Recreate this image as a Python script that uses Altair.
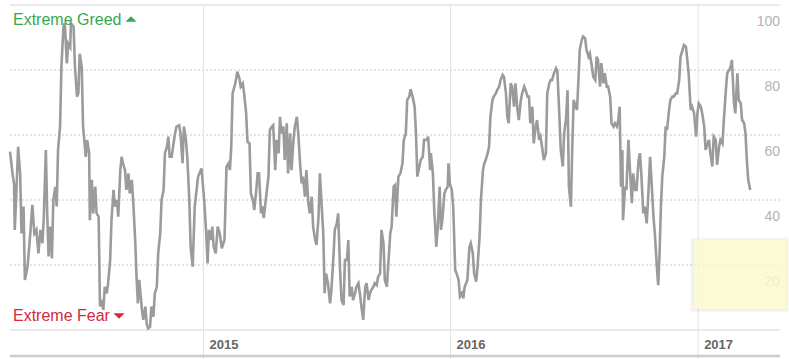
import altair as alt
import pandas as pd

# ---- data (day offsets from 2014-03-21, index value 0-100)
start_date = "2014-03-21"
days_2014 = [0,4,6,7,9,12,15,17,20,22,26,30,33,36,39,42,45,48,50,53,55,57,59,62,64,67,69,71,74,76,
             79,81,84,86,89,90,94,96,99,101,103,106,108,112,114,117,118,121,123,126,128,131,133,135,138,140,143,145,148,150,
             153,155,158,160,163,165,167,170,172,175,177,180,182,185,187,189,191,195,197,200,202,204,207,209,212,214,217,219,222,224,
             227,229,232,234,236,239,241,244,246,250,252,255,257,260,262,265,267,270]
vals_2014 = [54.9,47.7,45,30.8,40,56.4,48,29.7,38,15.4,19.5,29.7,38.5,29.7,30.8,23.6,30.8,26.7,34.9,55.4,
             35.9,22.6,31.8,22,40,44,38,55.4,62.6,81,93.3,94.4,82,88.2,87,94.4,93.3,81,71.8,72.8,
             85,81,62.6,53.3,58.5,54.4,33.8,46.2,35.9,44.1,35.9,34.9,7.2,9.2,6.2,13.3,11.3,14.4,21.5,33.8,
             43.1,38,40,34.9,49.2,53.3,51.3,49.2,43.1,48.2,42,46.2,40,27.7,16.4,8.2,15.4,6.2,3.1,7.2,
             2,0.5,1,7.2,4.1,11.3,13.3,23.6,29.7,40,43.1,54.4,56.4,59.5,53.3,53.3,56.4,60.5,62.6,63,
             60.5,51.3,62.6,58.5,53.3,40,25.6,19.5]

days_2015 = [273,278,283,287,290,292,294,297,299,301,304,307,310,313,317,320,323,325,327,329,
             333,336,339,341,344,346,349,351,354,356,359,361,364,366,368,371,373,375,378,382,
             384,387,389,392,394,397,399,401,404,406,409,411,414,416,419,421,424,426,429,431,
             433,436,438,441,443,446,448,451,453,456,458,461,463,465,467,470,473,475,478,480,
             483,485,488,490,493,495,498,500,502,505,507,510,512,515,517,520,522,525,527,530,
             532,534,537,539,542,544,547,549,552,554,557]
vals_2015 = [38,47.2,49.7,40,29.7,20.5,30.8,27.7,31.8,25.6,23.6,31.8,29.7,25.1,27.7,50.3,51.3,49.2,56.4,72.8,
             75.9,79.5,77.4,74.9,75.9,72.8,66.7,57.9,57.4,42,40,36.9,43.1,48.2,48.2,35.9,38,34.4,40,47.2,
             61.5,62.6,63,49.2,58.5,54.4,65.6,60.5,62.6,52.3,63.6,48.2,60.5,49.2,58.5,62.6,65.6,60.5,50.3,45.1,
             47.2,41,49.2,39,35.9,41,31.8,27.7,26.2,34.9,48.2,36.9,29.7,11.3,17.4,14.4,8.2,12.3,22.6,30.8,
             32.8,35.9,17.4,9.2,7.7,21.5,21.5,27.7,10.3,13.3,9.2,11.3,13.3,14.4,11.3,6.2,3.1,13.3,14.4,9.2,
             11.3,12.3,13.3,14.4,13.8,16.4,17.4,30.8,26.7,15.4,13.3]

days_2016a = [562,564,567,569,571,574,577,580,582,585,587,590,592,595,598,600,602,604,607,610,
              612,616,618,621,622,625,627,630,632,635,637,639,642,644,647,648,650,653,655,658,
              660,663,665,668,670,672,676,679,681,684,686,689,691,694,696,699,701,703,706,708,
              710,713,715,718,720,723,725,728,730,733,735,737,740,742,745,747,750,752,755,757,
              760,762,765,767,769,772,774,777,779,782,784,787,789,792,794,797,799,801,804,807,
              809,812,814,817,819,822,824,826,829,831,833,836,838,841]
vals_2016a = [29.7,31.8,44.1,44.6,34.9,47.2,48.2,51.3,58.5,60.5,70.8,71.8,74.1,71.8,68.7,60.5,47.2,49.2,52.3,53.3,
              58.5,58.5,59.5,49.2,54.4,48.2,36.9,25.6,30.8,44.1,30.8,33.8,42,43.1,44.1,51.3,45.1,43.1,38,18.5,
              17.4,15.4,10.3,11.3,9.7,13.3,15.4,25.6,26.7,23.6,17.4,14.9,19.5,28.7,40,49.2,51.3,52.3,54.4,56.4,
              65.6,70.8,71.8,72.8,73.8,74.9,76.9,78.5,77.9,72.8,65.6,63.6,75.9,74.9,68.7,75.9,67.7,64.6,70.8,72.8,
              74.9,73.8,71.8,71.8,63.6,68.7,57.4,62.6,64.6,58.5,59.5,55.4,52.3,54.4,72.8,75.9,76.9,76.9,79,80.5,
              79.5,65.6,55.4,50.3,60.5,65.6,73.8,44.1,37.9,56.4,70.8,68.7,67.7,81]

days_2016b = [842,845,847,850,852,855,857,860,862,865,867,869,872,874,877,879,882,884,887,889,
              892,894,897,899,901,903,905,906,909,911,914,916,919,921,924,926,929,931,933,936,
              938,941,943,946,948,951,953,956,958,960,962,964,967,969,971,974,976,979,981,984,
              986,989,991,994,996,999,1001,1003,1006,1008,1011,1014,1016,1018,1021,1023,1026,1028,1031,1033,
              1035,1038,1040,1043,1045,1048,1050,1053,1055,1058,1060,1063,1065,1067,1070,1072,1075,1077,1080,1082,
              1085,1087,1089,1091,1094]
vals_2016b = [86.2,89.2,90.3,89.7,86.2,84.1,85.1,81,77.9,76.9,84.1,83.1,74.9,82.1,75.9,79,74.9,74.9,71.8,63.6,
              62.6,63.6,62.6,64.6,68.7,44.1,55.4,33.8,44.1,43.1,58.5,50.3,39,48.2,43.1,43.1,52.3,54.4,48.2,35.9,
              38,32.8,40,53.3,46.2,34.9,29.7,19.5,13.8,23.6,38,47.2,53.3,62.6,61.5,67.7,70.8,71.8,71.8,72.8,
              72.8,76.9,84.1,86.2,87.7,87.2,83.1,79,67.7,68.7,66.7,59.5,66.7,69.7,68.7,66.7,62.6,55.4,57.4,58.5,
              54.4,50.3,59.5,58.5,50.8,56.4,58.5,57.4,64.6,73.8,79,80,81,83.1,69.7,66.7,79,70.8,69.7,64.6,
              63.6,60.5,52.3,46.2,43.1]

grid_values = [20, 40, 60, 80]
frame_values = [0, 100]
label_values = [20, 40, 60, 80, 100]
year_ticks = ["2015-01-01", "2016-01-01", "2017-01-01"]
year_labels = ["2015", "2016", "2017"]

days = days_2014 + days_2015 + days_2016a + days_2016b
vals = vals_2014 + vals_2015 + vals_2016a + vals_2016b
t0 = pd.Timestamp(start_date)
df = pd.DataFrame({
    "date": [(t0 + pd.Timedelta(days=d)).strftime("%Y-%m-%d") for d in days],
    "value": vals,
})

FONT = "Liberation Sans"
W, H = 770, 325

xscale = alt.Scale(type="utc",
                   domain=[alt.DateTime(year=2014, month=3, date=21, utc=True),
                           alt.DateTime(year=2017, month=5, date=2, utc=True)])
yscale = alt.Scale(domain=[0, 100], nice=False, zero=False)

one = alt.Data(values=[{"a": 1}])

grid = alt.Chart(pd.DataFrame({"v": grid_values})).mark_rule(
    color="#c8c8c8", strokeDash=[2, 2], strokeWidth=1).encode(
    y=alt.Y("v:Q", scale=yscale, axis=None))

frame = alt.Chart(pd.DataFrame({"v": frame_values})).mark_rule(
    color="#d6d6d6", strokeWidth=1.2).encode(
    y=alt.Y("v:Q", scale=yscale, axis=None))

years_df = pd.DataFrame({"d": year_ticks, "label": year_labels})
vlines = alt.Chart(years_df).mark_rule(color="#e3e3e3", strokeWidth=1).encode(
    x=alt.X("d:T", scale=xscale, axis=None), y=alt.value(0), y2=alt.value(354))

bottom = alt.Chart(one).mark_rule(color="#cccccc", strokeWidth=2.5).encode(
    x=alt.value(0), x2=alt.value(W), y=alt.value(351))

year_text = alt.Chart(years_df).mark_text(
    align="left", baseline="alphabetic", dx=6, font=FONT, fontSize=13,
    fontWeight="bold", color="#666666").encode(
    x=alt.X("d:T", scale=xscale, axis=None), y=alt.value(343.5), text="label:N")

line = alt.Chart(df).mark_line(color="#9b9b9b", strokeWidth=2.6).encode(
    x=alt.X("date:T", scale=xscale, axis=None),
    y=alt.Y("value:Q", scale=yscale, axis=None))

ylabels = alt.Chart(pd.DataFrame({"v": label_values})).mark_text(
    align="right", baseline="alphabetic", dy=21, font=FONT, fontSize=14,
    color="#b3b3b3").encode(
    x=alt.value(W), y=alt.Y("v:Q", scale=yscale, axis=None), text="v:Q")

# soft shadow + translucent yellow tooltip-like box
shadows = [
    alt.Chart(one).mark_rect(color="#000000", opacity=0.025).encode(
        x=alt.value(683.3 - k), x2=alt.value(777.3 + k * 0.5),
        y=alt.value(234.3 - k * 0.5), y2=alt.value(304.3 + k))
    for k in (1, 2, 3)
]
yellow = alt.Chart(one).mark_rect(color="#fefcce", opacity=0.82).encode(
    x=alt.value(683.3), x2=alt.value(777.3), y=alt.value(234.3), y2=alt.value(304.3))

greed_txt = alt.Chart(one).mark_text(
    align="left", baseline="alphabetic", font=FONT, fontSize=16, color="#36a852",
    text="Extreme Greed").encode(x=alt.value(3), y=alt.value(20))
greed_tri = alt.Chart(one).mark_point(
    shape="M-1,0.5L1,0.5L0,-0.5Z", filled=True, size=125, color="#36a852", opacity=1).encode(
    x=alt.value(121), y=alt.value(14))

fear_txt = alt.Chart(one).mark_text(
    align="left", baseline="alphabetic", font=FONT, fontSize=16, color="#d42a3c",
    text="Extreme Fear").encode(x=alt.value(3), y=alt.value(316))
fear_tri = alt.Chart(one).mark_point(
    shape="M-1,-0.5L1,-0.5L0,0.5Z", filled=True, size=125, color="#d42a3c", opacity=1).encode(
    x=alt.value(109), y=alt.value(311))

chart = alt.layer(
    grid, frame, vlines, bottom, year_text, line, ylabels,
    *shadows, yellow,
    greed_txt, greed_tri, fear_txt, fear_tri,
).properties(
    width=W, height=H,
    padding={"left": 10, "top": 5, "right": 9, "bottom": 29},
    autosize=alt.AutoSizeParams(type="none"),
    background="white",
).configure_view(stroke=None)

chart.save("out.html", embed_options={"renderer": "svg", "actions": False})
